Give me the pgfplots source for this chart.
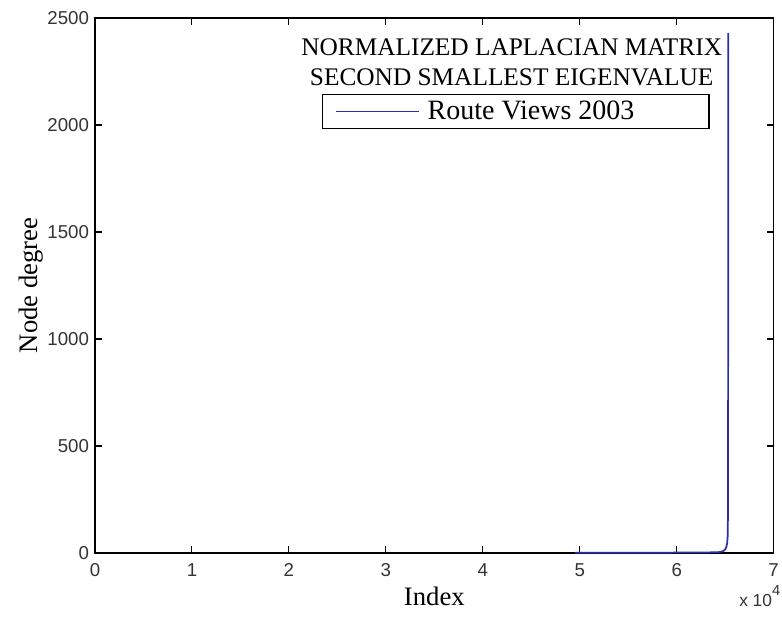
\documentclass[border=0pt]{standalone}
\usepackage{fontspec}
\setmainfont{Liberation Serif}
\newfontfamily\ticksfont{Liberation Sans}
\usepackage{pgfplots}
\pgfplotsset{compat=1.18}
\definecolor{lineblue}{rgb}{0.18,0.18,0.68}
\begin{document}
\begin{tikzpicture}
\path[use as bounding box] (-71.25pt,-49.5pt) rectangle (515.25pt,414.75pt);
\begin{axis}[
  scale only axis,
  clip mode=individual,
  width=509pt, height=401.25pt,
  xmin=0, xmax=70000, ymin=0, ymax=2500,
  xtick={0,10000,20000,30000,40000,50000,60000,70000},
  xticklabels={0,1,2,3,4,5,6,7},
  ytick={0,500,1000,1500,2000,2500},
  scaled x ticks=false,
  tick align=inside,
  major tick length=5pt,
  axis line style={line width=0.8pt},
  tick style={line width=0.8pt, black},
  /pgf/number format/1000 sep={},
  /pgf/number format/assume math mode=true,
  ticklabel style={font=\ticksfont\fontsize{14}{16}\selectfont, text=black!80},
  yticklabel style={xshift=-1pt},
  xticklabel style={yshift=-4pt, text height=10pt, text depth=0pt},
  xlabel={Index},
  ylabel={Node degree},
  label style={font=\fontsize{20}{23}\selectfont},
  xlabel style={yshift=-1pt},
  ylabel style={yshift=-4pt},
  legend style={at={(axis description cs:0.62,0.825)}, anchor=center,
    draw=black, line width=1.1pt, inner xsep=10pt, inner ysep=3pt,
    font=\fontsize{21}{25}\selectfont},
  legend image code/.code={\draw[#1, line width=0.9pt] (0pt,0pt) -- (62pt,0pt);},
  legend cell align=left,
]
\addplot[color=lineblue, line width=1.3pt] coordinates {
  (49500,1) (52000,1) (55000,1) (58000,1) (60000,2) (62000,2)
  (63500,3) (64300,4) (64700,7) (64950,14) (65100,25) (65200,45)
  (65260,80) (65290,200) (65300,600) (65310,1500) (65320,2430)
};
\addlegendentry{\hspace*{4pt}Route Views 2003\hspace*{44pt}}
\node[align=center, font=\fontsize{19}{22}\selectfont] at (axis description cs:0.614,0.917)
  {NORMALIZED LAPLACIAN MATRIX\\SECOND SMALLEST EIGENVALUE};
\node[anchor=north east, inner sep=0pt, font=\ticksfont\fontsize{13}{15}\selectfont, text=black!80]
  at (axis description cs:1.01,-0.06) {x 10\raisebox{1.2ex}{\fontsize{11}{12}\selectfont 4}};
\end{axis}
\end{tikzpicture}
\end{document}
